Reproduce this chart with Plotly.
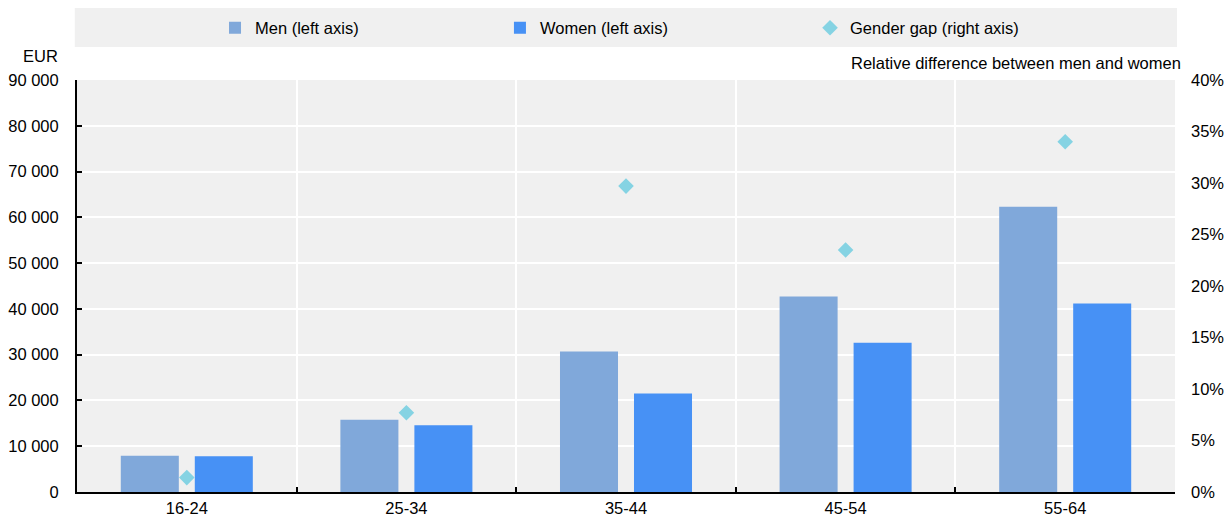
import plotly.graph_objects as go

ages = ["16-24", "25-34", "35-44", "45-54", "55-64"]
men = [7900, 15800, 30700, 42700, 62300]
women = [7800, 14600, 21500, 32600, 41200]
gender_gap = [1.4, 7.7, 29.7, 23.5, 34.0]  # percent

left_ticks = [0, 10000, 20000, 30000, 40000, 50000, 60000, 70000, 80000, 90000]
left_ticktext = ["0", "10 000", "20 000", "30 000", "40 000", "50 000", "60 000", "70 000", "80 000", "90 000"]
right_ticks = [0, 5, 10, 15, 20, 25, 30, 35, 40]
right_ticktext = ["0%", "5%", "10%", "15%", "20%", "25%", "30%", "35%", "40%"]

FONT = "Liberation Sans, Arial, sans-serif"
FS = 16.5
BG = "#F0F0F0"

fig = go.Figure()
fig.add_trace(go.Bar(x=ages, y=men, name="Men (left axis)", showlegend=True,
                     marker=dict(color="#80A8DA", line=dict(width=0)),
                     legend="legend"))
fig.add_trace(go.Bar(x=ages, y=women, name="Women (left axis)", showlegend=True,
                     marker=dict(color="#4791F5", line=dict(width=0)),
                     legend="legend2"))
fig.add_trace(go.Scatter(x=ages, y=gender_gap, name="Gender gap (right axis)",
                         mode="markers", yaxis="y2", showlegend=True,
                         marker=dict(symbol="diamond", size=12, color="#85D3E3"),
                         legend="legend3"))

leg_common = dict(orientation="h", bgcolor="rgba(0,0,0,0)", yanchor="middle",
                  y=1.126, xref="paper", yref="paper", font=dict(size=FS, color="#000"),
                  itemsizing="constant", xanchor="left")

fig.update_layout(
    width=1228, height=519,
    margin=dict(l=77, r=53, t=80, b=27, autoexpand=False),
    paper_bgcolor="white", plot_bgcolor=BG,
    font=dict(family=FONT, size=FS, color="#000"),
    showlegend=True,
    barmode="group", bargap=0.326, bargroupgap=0.216,
    legend=dict(leg_common, x=0.1257),
    legend2=dict(leg_common, x=0.3852),
    legend3=dict(leg_common, x=0.6676),
    xaxis=dict(showline=True, linecolor="#000", linewidth=2, ticks="inside",
               tickson="boundaries", ticklen=5, tickcolor="#000", tickwidth=2,
               showgrid=True, gridcolor="white", gridwidth=2, automargin=False,
               tickfont=dict(size=FS), zeroline=False),
    yaxis=dict(range=[0, 90000], tickvals=left_ticks, ticktext=left_ticktext,
               showline=True, linecolor="#000", linewidth=2, ticks="inside",
               ticklen=5, tickcolor="#000", tickwidth=2, automargin=False,
               showgrid=True, gridcolor="white", gridwidth=1.5, zeroline=False,
               ticklabelstandoff=13, tickfont=dict(size=FS)),
    yaxis2=dict(range=[0, 40], tickvals=right_ticks, ticktext=right_ticktext,
                overlaying="y", side="right", showgrid=False, showline=False,
                zeroline=False, ticks="", ticklabelstandoff=15, automargin=False,
                tickfont=dict(size=FS)),
    shapes=[dict(type="rect", xref="paper", yref="paper",
                 x0=-0.002, x1=1.0018, y0=1.0801, y1=1.1748,
                 fillcolor=BG, line=dict(width=0), layer="below")],
    annotations=[
        dict(text="EUR", xref="paper", yref="paper", x=-0.0155, y=1.058,
             xanchor="right", yanchor="middle", showarrow=False, font=dict(size=FS)),
        dict(text="Relative difference between men and women", xref="paper", yref="paper",
             x=1.0075, y=1.041, xanchor="right", yanchor="middle", showarrow=False,
             font=dict(size=FS)),
    ],
)

fig.write_html("out.html", config={"displayModeBar": False},
               post_script="document.body.style.margin='0';")
